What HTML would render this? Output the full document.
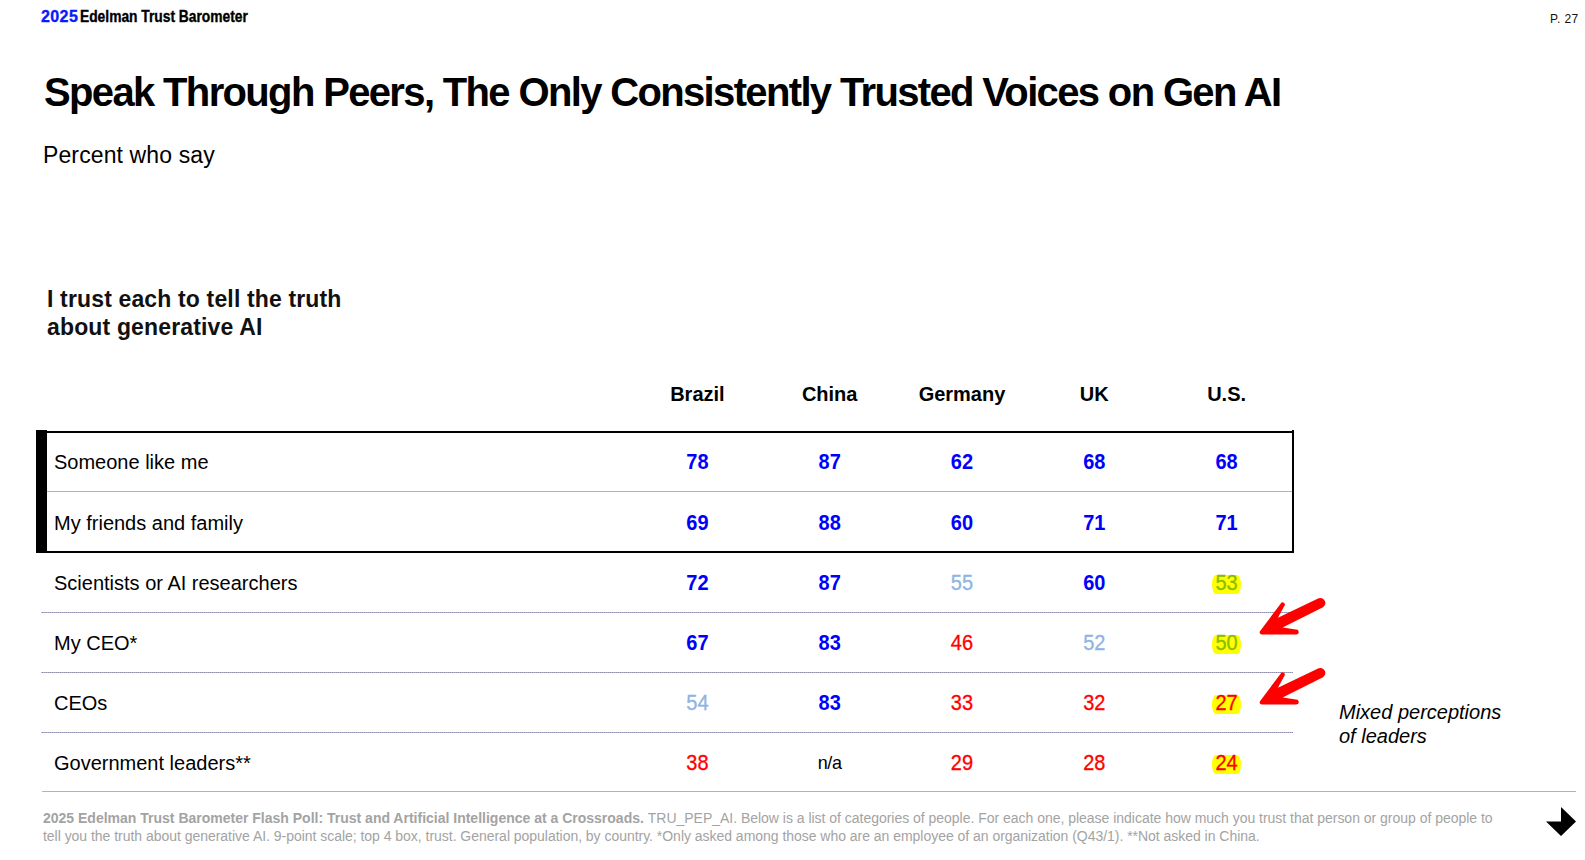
<!DOCTYPE html>
<html>
<head>
<meta charset="utf-8">
<style>
*{margin:0;padding:0;box-sizing:border-box;}
html,body{width:1585px;height:860px;background:#fff;overflow:hidden;}
body{position:relative;font-family:"Liberation Sans",sans-serif;color:#000;}
.a{position:absolute;white-space:nowrap;}
.brand{left:41px;top:9px;font-size:16px;line-height:16px;font-weight:bold;letter-spacing:-1.2px;-webkit-text-stroke:0.35px currentColor;}
.brand .y{letter-spacing:0.4px;}
.brand .bt{display:inline-block;margin-left:1.4px;transform:scaleX(0.862);transform-origin:0 0;letter-spacing:0;}
.brand .y{color:#0a1aff;}
.pg{left:1550px;top:12.8px;font-size:12px;line-height:12px;color:#111;letter-spacing:0.45px;}
.title{left:44px;top:72px;font-size:40px;line-height:40px;font-weight:bold;letter-spacing:-1.65px;}
.sub{left:43px;top:143.7px;font-size:23px;line-height:23px;letter-spacing:0.12px;}
.ct{left:47px;top:284.9px;font-size:23px;line-height:28px;font-weight:bold;color:#111;letter-spacing:0.15px;}
.hd{top:384px;font-size:20px;line-height:20px;font-weight:bold;width:132.3px;text-align:center;}
.lbl{left:54px;font-size:20px;line-height:20px;}
.n{font-size:20px;line-height:20px;font-weight:bold;width:132.3px;text-align:center;transform:scaleY(1.07);transform-origin:50% 16.9px;}
.b{color:#0000ff;}
.lb{color:#8eb4e3;font-weight:normal;-webkit-text-stroke:0.3px currentColor;}
.r{color:#ff0000;font-weight:normal;-webkit-text-stroke:0.3px currentColor;}
.na{font-weight:normal;color:#000;font-size:18px;letter-spacing:-0.3px;}
.hlb{position:absolute;left:1212px;width:29px;height:19px;background:#ffff00;border-radius:4px/9.5px;}
.g{color:#8cbc00;font-weight:normal;-webkit-text-stroke:0.3px currentColor;}
.line{position:absolute;height:1px;}
.solid{background:#b3b5a8;}
.dot{background:repeating-linear-gradient(90deg,#b4b5a5 0 1px,#8e8eb0 1px 2px);}
.box{position:absolute;left:46px;top:431px;width:1248px;height:122px;border:2px solid #000;border-left:none;}
.bar{position:absolute;left:36px;top:430px;width:11px;height:123px;background:#000;}
.foot{left:43px;top:809px;font-size:14px;line-height:18px;color:#a3a3a3;}
.foot b{font-weight:bold;}
.mix{left:1339px;top:700.4px;font-size:20px;line-height:24px;font-style:italic;}
</style>
</head>
<body>
<div class="a brand"><span class="y">2025</span><span class="bt">Edelman Trust Barometer</span></div>
<div class="a pg">P. 27</div>
<div class="a title">Speak Through Peers, The Only Consistently Trusted Voices on Gen AI</div>
<div class="a sub">Percent who say</div>
<div class="a ct">I trust each to tell the truth<br>about generative AI</div>

<div class="a hd" style="left:631.25px">Brazil</div>
<div class="a hd" style="left:763.55px">China</div>
<div class="a hd" style="left:895.85px">Germany</div>
<div class="a hd" style="left:1028.15px">UK</div>
<div class="a hd" style="left:1160.45px">U.S.</div>

<div class="box"></div><div class="bar"></div><div style="position:absolute;left:1292px;top:430px;width:2px;height:1px;background:#000"></div>
<div class="line solid" style="left:47px;top:491px;width:1245px"></div>
<div class="line dot" style="left:41px;top:612px;width:1252px"></div>
<div class="line dot" style="left:41px;top:672px;width:1252px"></div>
<div class="line dot" style="left:41px;top:732px;width:1252px"></div>
<div class="line solid" style="left:42px;top:791px;width:1534px"></div>

<div class="a lbl" style="top:451.6px">Someone like me</div>
<div class="a lbl" style="top:512.9px">My friends and family</div>
<div class="a lbl" style="top:572.8px">Scientists or AI researchers</div>
<div class="a lbl" style="top:632.6px">My CEO*</div>
<div class="a lbl" style="top:692.7px">CEOs</div>
<div class="a lbl" style="top:752.7px">Government leaders**</div>

<div class="a n b" style="left:631.25px;top:451.6px">78</div>
<div class="a n b" style="left:763.55px;top:451.6px">87</div>
<div class="a n b" style="left:895.85px;top:451.6px">62</div>
<div class="a n b" style="left:1028.15px;top:451.6px">68</div>
<div class="a n b" style="left:1160.45px;top:451.6px">68</div>

<div class="a n b" style="left:631.25px;top:512.9px">69</div>
<div class="a n b" style="left:763.55px;top:512.9px">88</div>
<div class="a n b" style="left:895.85px;top:512.9px">60</div>
<div class="a n b" style="left:1028.15px;top:512.9px">71</div>
<div class="a n b" style="left:1160.45px;top:512.9px">71</div>

<div class="a n b" style="left:631.25px;top:572.8px">72</div>
<div class="a n b" style="left:763.55px;top:572.8px">87</div>
<div class="a n lb" style="left:895.85px;top:572.8px">55</div>
<div class="a n b" style="left:1028.15px;top:572.8px">60</div>
<div class="hlb" style="top:575px"></div><div class="a n g" style="left:1160.45px;top:572.8px">53</div>

<div class="a n b" style="left:631.25px;top:632.6px">67</div>
<div class="a n b" style="left:763.55px;top:632.6px">83</div>
<div class="a n r" style="left:895.85px;top:632.6px">46</div>
<div class="a n lb" style="left:1028.15px;top:632.6px">52</div>
<div class="hlb" style="top:635px"></div><div class="a n g" style="left:1160.45px;top:632.6px">50</div>

<div class="a n lb" style="left:631.25px;top:692.7px">54</div>
<div class="a n b" style="left:763.55px;top:692.7px">83</div>
<div class="a n r" style="left:895.85px;top:692.7px">33</div>
<div class="a n r" style="left:1028.15px;top:692.7px">32</div>
<div class="hlb" style="top:695px"></div><div class="a n r" style="left:1160.45px;top:692.7px">27</div>

<div class="a n r" style="left:631.25px;top:752.7px">38</div>
<div class="a n na" style="left:763.55px;top:752.7px">n/a</div>
<div class="a n r" style="left:895.85px;top:752.7px">29</div>
<div class="a n r" style="left:1028.15px;top:752.7px">28</div>
<div class="hlb" style="top:755px"></div><div class="a n r" style="left:1160.45px;top:752.7px">24</div>

<svg class="a" style="left:0;top:0" width="1585" height="860" viewBox="0 0 1585 860">
  <path d="M1318.6,598.3 A5,5 0 0 1 1323,607.2 L1282.6,627.5 L1295.9,629.5 A2.5,2.5 0 0 1 1296.5,634.5 L1261.6,634.5 Q1259,634 1259.8,631.5 L1280.8,603.4 A2.2,2.2 0 0 1 1284.6,605.6 L1277.9,617.8 Z" fill="#ff0000"/>
  <path transform="translate(0,70)" d="M1318.6,598.3 A5,5 0 0 1 1323,607.2 L1282.6,627.5 L1295.9,629.5 A2.5,2.5 0 0 1 1296.5,634.5 L1261.6,634.5 Q1259,634 1259.8,631.5 L1280.8,603.4 A2.2,2.2 0 0 1 1284.6,605.6 L1277.9,617.8 Z" fill="#ff0000"/>
  <path d="M1561,807 L1576,821.5 L1561,836 L1546,821.5 L1561,821.5 Z" fill="#000"/>
</svg>

<div class="a mix">Mixed perceptions<br>of leaders</div>

<div class="a foot"><b>2025 Edelman Trust Barometer Flash Poll: Trust and Artificial Intelligence at a Crossroads.</b> <span style="letter-spacing:-0.02px">TRU_PEP_AI. Below is a list of categories of people. For each one, please indicate how much you trust that person or group of people to</span><br><span style="letter-spacing:-0.029px">tell you the truth about generative AI. 9-point scale; top 4 box, trust. General population, by country. *Only asked among those who are an employee of an organization (Q43/1). **Not asked in China.</span></div>
</body>
</html>
